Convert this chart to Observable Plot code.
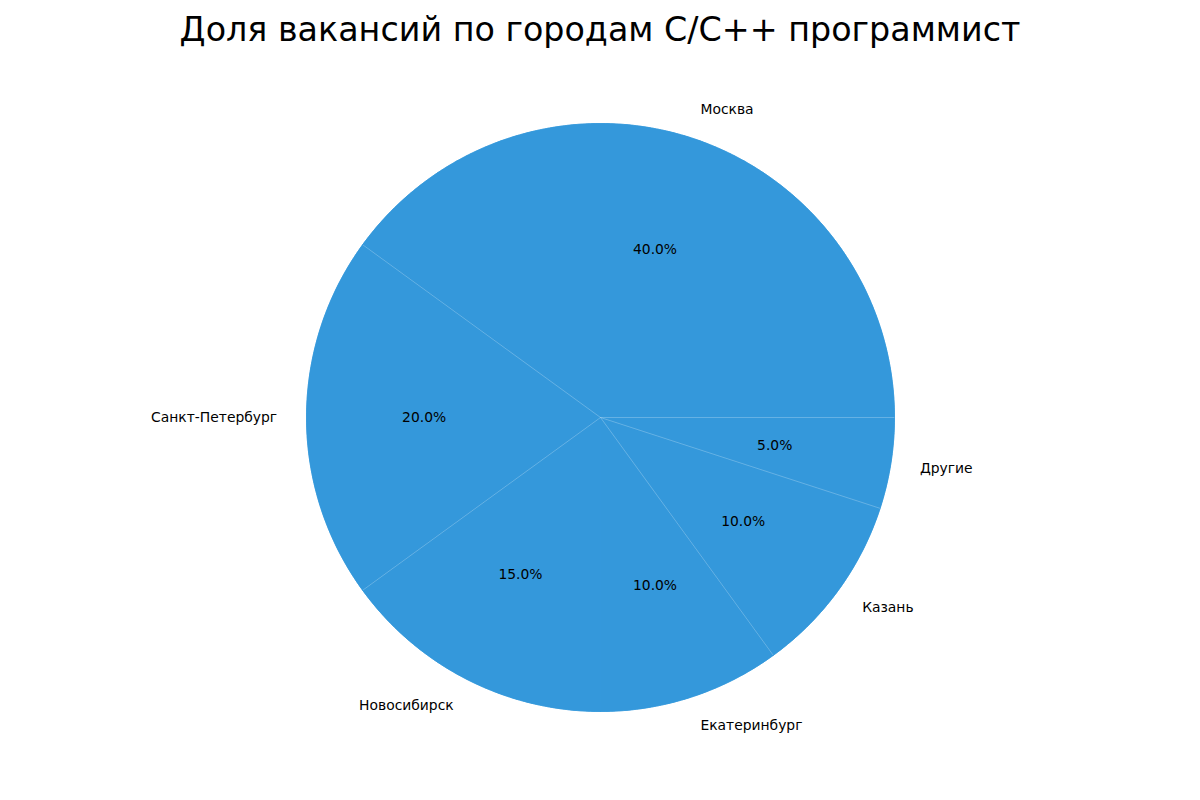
<!DOCTYPE html>
<html>
<head>
<meta charset="utf-8">
<script src="https://cdn.jsdelivr.net/npm/d3@7"></script>
<script src="https://cdn.jsdelivr.net/npm/@observablehq/plot@0.6"></script>
<style>
  html, body { margin: 0; padding: 0; background: #fff; }
  #title { width: 1200px; height: 60px; line-height: 60px; text-align: center;
           font-family: "DejaVu Sans", sans-serif; font-size: 33.33px; color: #000; }
  #chart svg { display: block; }
</style>
</head>
<body>
<div id="title">Доля вакансий по городам C/C++ программист</div>
<div id="chart"></div>
<script>
const cities = ["Москва", "Санкт-Петербург", "Новосибирск", "Екатеринбург", "Казань", "Другие"];
const shares = [40, 20, 15, 10, 10, 5];
const color = "#3498db";

const total = d3.sum(shares);
// wedges: counterclockwise from angle 0 (east), like matplotlib default
let acc = 0;
const wedges = cities.map((c, i) => {
  const a0 = acc / total * 2 * Math.PI;
  acc += shares[i];
  const a1 = acc / total * 2 * Math.PI;
  return {city: c, value: shares[i], a0, a1, mid: (a0 + a1) / 2};
});

const poly = [];
for (const w of wedges) {
  poly.push({city: w.city, x: 0, y: 0});
  const n = Math.max(2, Math.ceil((w.a1 - w.a0) / (Math.PI / 360)));
  for (let k = 0; k <= n; k++) {
    const a = w.a0 + (w.a1 - w.a0) * k / n;
    poly.push({city: w.city, x: Math.cos(a), y: Math.sin(a)});
  }
  poly.push({city: w.city, x: 0, y: 0});
}
// faint seams between wedges (a pixel-aligned vertical seam is invisible in the original)
const edges = wedges
  .map(w => ({x2: Math.cos(w.a0), y2: Math.sin(w.a0)}))
  .filter(d => Math.abs(d.x2) > 1e-6);
const labels = wedges.map(w => ({city: w.city, x: 1.1 * Math.cos(w.mid), y: 1.1 * Math.sin(w.mid)}));
const pcts = wedges.map(w => ({t: (w.value / total * 100).toFixed(1) + "%", x: 0.6 * Math.cos(w.mid), y: 0.6 * Math.sin(w.mid)}));

const W = 1200, H = 740, R = 294, cx = 600, cy = 357;
const font = "DejaVu Sans, sans-serif";
const fs = 13.89;
const wedgeLayer = () => Plot.line(poly, {x: "x", y: "y", z: "city", fill: color, stroke: color, strokeWidth: 0.6, curve: "linear"});
const chart = Plot.plot({
  width: W, height: H,
  margin: 0,
  x: {domain: [-cx / R, (W - cx) / R], axis: null},
  y: {domain: [-(H - cy) / R, cy / R], axis: null},
  style: {fontFamily: font, background: "white"},
  marks: [
    wedgeLayer(),
    wedgeLayer(),
    Plot.link(edges, {x1: 0, y1: 0, x2: "x2", y2: "y2", stroke: "white", strokeOpacity: 0.35, strokeWidth: 0.7}),
    Plot.text(labels.filter(d => d.x >= 0), {x: "x", y: "y", text: "city", textAnchor: "start", fontSize: fs, fill: "black"}),
    Plot.text(labels.filter(d => d.x < 0), {x: "x", y: "y", text: "city", textAnchor: "end", fontSize: fs, fill: "black"}),
    Plot.text(pcts, {x: "x", y: "y", text: "t", textAnchor: "middle", fontSize: fs, fill: "black"})
  ]
});
document.getElementById("chart").appendChild(chart);
</script>
</body>
</html>
